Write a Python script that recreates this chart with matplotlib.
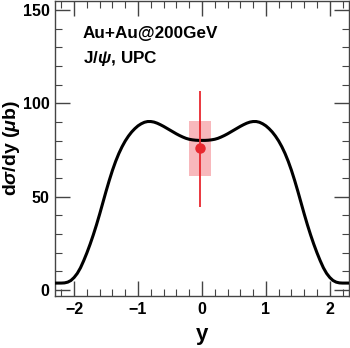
import numpy as np
import matplotlib
matplotlib.use("Agg")
import matplotlib.pyplot as plt
from matplotlib.ticker import MultipleLocator

# ============================================================
# DATA
# ============================================================

# model curve, left half (symmetric in y)
y_half = [-2.3, -2.2, -2.15, -2.1, -2.05, -2.0, -1.95, -1.9, -1.85, -1.8, -1.75,
          -1.7, -1.65, -1.6, -1.55, -1.5, -1.45, -1.4, -1.35, -1.3, -1.25, -1.2,
          -1.15, -1.1, -1.05, -1.0, -0.95, -0.9, -0.85, -0.8, -0.75, -0.7, -0.65,
          -0.6, -0.55, -0.5, -0.45, -0.4, -0.35, -0.3, -0.25, -0.2, -0.15, -0.1,
          -0.05, 0.0]
dsdy_half = [3.8, 3.8, 3.9, 4.3, 5.2, 6.8, 9.0, 12.0, 15.8, 20.0, 24.6,
             29.6, 35.0, 40.8, 46.9, 53.0, 58.8, 64.2, 69.0, 73.2, 76.8, 79.9,
             82.5, 84.7, 86.5, 88.0, 89.1, 89.9, 90.3, 90.3, 90.0, 89.4, 88.6,
             87.7, 86.7, 85.7, 84.7, 83.7, 82.8, 82.0, 81.3, 80.8, 80.5, 80.3,
             80.2, 80.2]

y_model = np.concatenate([y_half, -np.array(y_half[::-1][1:])])
dsdy_model = np.concatenate([dsdy_half, dsdy_half[::-1][1:]])

# data point with stat error and systematic box
y_data = [-0.03]
dsdy_data = [75.9]
stat_lo, stat_hi = [31.3], [30.9]
sys_lo, sys_hi = [61.0], [90.5]
box_halfwidth = 0.17

# ============================================================
# STYLE
# ============================================================

plt.rcParams["font.family"] = ["Liberation Sans", "DejaVu Sans"]
plt.rcParams["font.weight"] = "bold"
plt.rcParams["mathtext.fontset"] = "custom"
plt.rcParams["mathtext.rm"] = "Liberation Sans:bold"
plt.rcParams["mathtext.it"] = "Liberation Sans:italic:bold"

fig = plt.figure(figsize=(3.5, 3.48), dpi=100)
ax = fig.add_axes([0.157, 0.149, 0.84, 0.849])

# ============================================================
# PLOT
# ============================================================

ax.plot(y_model, dsdy_model, color="black", lw=2.2, zorder=3)

for yd, lo, hi in zip(y_data, sys_lo, sys_hi):
    ax.add_patch(plt.Rectangle((yd - box_halfwidth, lo), 2 * box_halfwidth, hi - lo,
                               facecolor="#f47e86", alpha=0.55, edgecolor="none", zorder=2))

ax.errorbar(y_data, dsdy_data, yerr=[stat_lo, stat_hi], fmt="o", color="#e8282f",
            ms=6.5, elinewidth=1.3, capsize=0, zorder=4)

ax.set_xlim(-2.3, 2.3)
ax.set_ylim(-3.2, 155)

ax.xaxis.set_major_locator(MultipleLocator(1))
ax.xaxis.set_minor_locator(MultipleLocator(0.2))
ax.yaxis.set_major_locator(MultipleLocator(50))
ax.yaxis.set_minor_locator(MultipleLocator(10))
ax.tick_params(which="both", direction="in", top=True, right=True,
               labelsize=11.5, color="#444444")
ax.tick_params(which="major", length=11, width=1.0, pad=4)
ax.tick_params(which="minor", length=5, width=0.8)
for s in ax.spines.values():
    s.set_color("#444444")
    s.set_linewidth(1.0)

ax.set_xlabel("y", fontsize=16, fontweight="bold")
ax.xaxis.set_label_coords(0.5, -0.095)
ax.set_ylabel(r"d$\sigma$/dy ($\mu$b)", fontsize=14, fontweight="bold")
ax.yaxis.set_label_coords(-0.112, 0.5)

ax.text(0.095, 0.875, "Au+Au@200GeV", transform=ax.transAxes, fontsize=12.3,
        fontweight="bold")
ax.text(0.095, 0.79, r"J/$\psi$, UPC", transform=ax.transAxes, fontsize=12.3,
        fontweight="bold")

fig.savefig("out.png", dpi=100)
